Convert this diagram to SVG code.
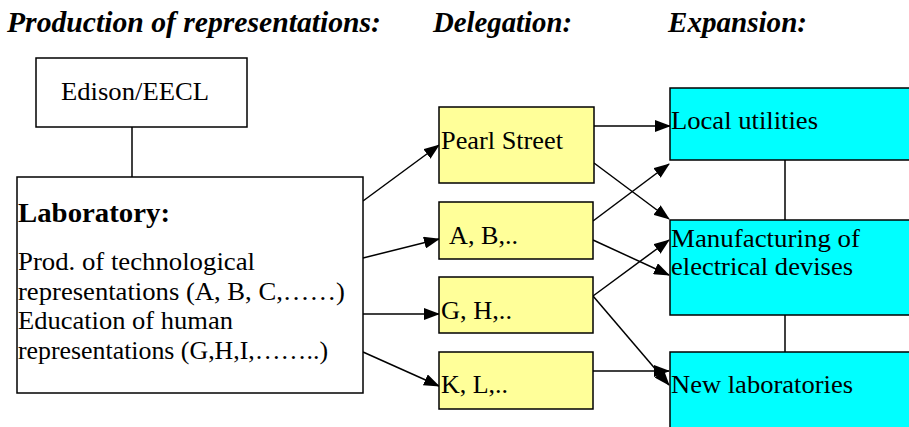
<svg xmlns="http://www.w3.org/2000/svg" width="909" height="427" viewBox="0 0 909 427">
<defs>
<marker id="ah" markerUnits="userSpaceOnUse" markerWidth="16" markerHeight="12" refX="15" refY="6" orient="auto">
<path d="M0,0 L16,6 L0,12 Z" fill="#000"/>
</marker>
</defs>
<style>
text{font-family:"Liberation Serif","Times New Roman",serif;fill:#000}
.hd{font-size:29px;font-weight:bold;font-style:italic}
.t{font-size:26px}
.b{font-size:28px;font-weight:bold}
.box{stroke:#000;stroke-width:1.5}
.w{fill:#fff}
.y{fill:#ffff99}
.c{fill:#00ffff}
.ln{stroke:#000;stroke-width:1.5;fill:none}
.ar{stroke:#000;stroke-width:1.5;fill:none;marker-end:url(#ah)}
</style>
<rect width="909" height="427" fill="#fff"/>
<g id="headers">
<text class="hd" x="7" y="32" textLength="374" lengthAdjust="spacingAndGlyphs">Production of representations:</text>
<text class="hd" x="433" y="32" textLength="139" lengthAdjust="spacingAndGlyphs">Delegation:</text>
<text class="hd" x="668" y="32" textLength="139" lengthAdjust="spacingAndGlyphs">Expansion:</text>
</g>
<g id="connectors">
<line class="ln" x1="132" y1="127" x2="132" y2="184"/>
<line class="ln" x1="785" y1="160" x2="785" y2="220"/>
<line class="ln" x1="785" y1="315" x2="785" y2="352"/>
<line class="ar" x1="363" y1="201" x2="439" y2="145"/>
<line class="ar" x1="363" y1="258" x2="439" y2="239"/>
<line class="ar" x1="363" y1="314" x2="439" y2="314"/>
<line class="ar" x1="363" y1="352" x2="439" y2="386"/>
<line class="ar" x1="594" y1="126" x2="670" y2="126"/>
<line class="ar" x1="594" y1="163" x2="669" y2="219"/>
<line class="ar" x1="593" y1="221" x2="669" y2="164"/>
<line class="ar" x1="593" y1="240" x2="669" y2="275"/>
<line class="ar" x1="593" y1="296" x2="669" y2="240"/>
<line class="ar" x1="593" y1="296" x2="669" y2="385"/>
<line class="ar" x1="593" y1="371" x2="669" y2="371"/>
</g>
<g id="edison">
<rect class="box w" x="36" y="58" width="211" height="69"/>
<text class="t" x="61" y="100" textLength="148" lengthAdjust="spacingAndGlyphs">Edison/EECL</text>
</g>
<g id="laboratory">
<rect class="box w" x="17" y="177" width="346" height="216"/>
<text class="b" x="18" y="222" textLength="152" lengthAdjust="spacingAndGlyphs">Laboratory:</text>
<text class="t" x="18" y="270" textLength="237" lengthAdjust="spacingAndGlyphs">Prod. of technological</text>
<text class="t" x="18" y="300" textLength="327" lengthAdjust="spacingAndGlyphs">representations (A, B, C,……)</text>
<text class="t" x="18" y="329" textLength="215" lengthAdjust="spacingAndGlyphs">Education of human</text>
<text class="t" x="18" y="359" textLength="310" lengthAdjust="spacingAndGlyphs">representations (G,H,I,……..)</text>
</g>
<g id="pearl">
<rect class="box y" x="439" y="107" width="155" height="76"/>
<text class="t" x="441" y="149" textLength="122" lengthAdjust="spacingAndGlyphs">Pearl Street</text>
</g>
<g id="ab">
<rect class="box y" x="439" y="202" width="154" height="57"/>
<text class="t" x="449" y="244" textLength="69" lengthAdjust="spacingAndGlyphs">A, B,..</text>
</g>
<g id="gh">
<rect class="box y" x="439" y="277" width="154" height="56"/>
<text class="t" x="441" y="319" textLength="71" lengthAdjust="spacingAndGlyphs">G, H,..</text>
</g>
<g id="kl">
<rect class="box y" x="439" y="352" width="154" height="57"/>
<text class="t" x="441" y="393" textLength="67" lengthAdjust="spacingAndGlyphs">K, L,..</text>
</g>
<g id="local">
<rect class="box c" x="670" y="88" width="250" height="72"/>
<text class="t" x="671" y="129" textLength="147" lengthAdjust="spacingAndGlyphs">Local utilities</text>
</g>
<g id="manufacturing">
<rect class="box c" x="670" y="220" width="250" height="95"/>
<text class="t" x="671" y="247" textLength="189" lengthAdjust="spacingAndGlyphs">Manufacturing of</text>
<text class="t" x="671" y="275" textLength="182" lengthAdjust="spacingAndGlyphs">electrical devises</text>
</g>
<g id="newlabs">
<rect class="box c" x="670" y="352" width="250" height="90"/>
<text class="t" x="671" y="393" textLength="182" lengthAdjust="spacingAndGlyphs">New laboratories</text>
</g>
</svg>
